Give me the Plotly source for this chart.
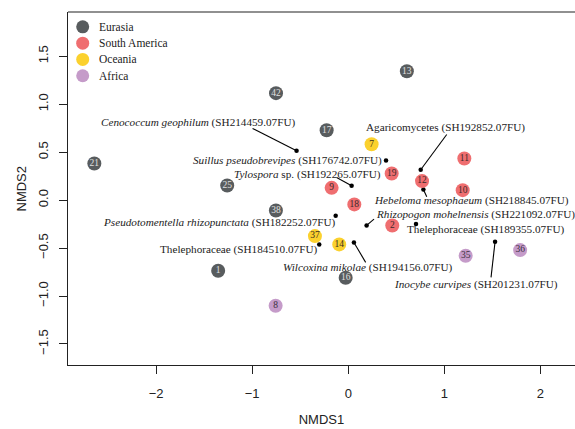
import plotly.graph_objects as go

# ---- data ----
regions = ["Eurasia", "South America", "Oceania", "Africa"]

eur_ids = ["21", "42", "13", "17", "25", "38", "1", "16"]
eur_x = [-2.643, -0.752, 0.61, -0.225, -1.26, -0.753, -1.354, -0.027]
eur_y = [0.382, 1.115, 1.344, 0.729, 0.153, -0.108, -0.736, -0.809]

sam_ids = ["9", "18", "19", "12", "11", "10", "2"]
sam_x = [-0.173, 0.063, 0.452, 0.768, 1.208, 1.191, 0.458]
sam_y = [0.128, -0.045, 0.278, 0.198, 0.434, 0.104, -0.264]

oce_ids = ["7", "37", "14"]
oce_x = [0.243, -0.347, -0.094]
oce_y = [0.583, -0.375, -0.462]

afr_ids = ["8", "35", "36"]
afr_x = [-0.756, 1.222, 1.789]
afr_y = [-1.101, -0.580, -0.521]

taxa = [
    "<i>Cenococcum geophilum</i> (SH214459.07FU)",
    "<i>Suillus pseudobrevipes</i> (SH176742.07FU)",
    "<i>Tylospora</i> sp. (SH192265.07FU)",
    "Agaricomycetes (SH192852.07FU)",
    "<i>Hebeloma mesophaeum</i> (SH218845.07FU)",
    "<i>Pseudotomentella rhizopunctata</i> (SH182252.07FU)",
    "<i>Rhizopogon mohelnensis</i> (SH221092.07FU)",
    "Thelephoraceae (SH189355.07FU)",
    "Thelephoraceae (SH184510.07FU)",
    "<i>Wilcoxina mikolae</i> (SH194156.07FU)",
    "<i>Inocybe curvipes</i> (SH201231.07FU)",
]
taxa_x = [-0.538, 0.393, 0.035, 0.754, 0.782, -0.131, 0.191, 0.705, -0.302, 0.059, 1.528]
taxa_y = [0.514, 0.413, 0.149, 0.316, 0.111, -0.163, -0.264, -0.250, -0.462, -0.441, -0.434]

# ---- label layout (position of text, anchor, leader-line end) ----
lab_x = [-1.560, 0.368, 0.361, 1.015, 0.248, -0.108, 0.268, 0.595, -0.303, 0.208, 1.334]
lab_y = [0.805, 0.413, 0.271, 0.757, 0.000, -0.236, -0.149, -0.305, -0.514, -0.705, -0.878]
lab_anchor = ["center", "right", "right", "center", "left", "right", "left", "left", "right", "center", "center"]
line_x = [-0.996, None, -0.121, 1.025, 0.817, None, 0.268, None, None, 0.181, 1.486]
line_y = [0.747, None, 0.236, 0.684, 0.034, None, -0.198, None, None, -0.649, -0.805]

colors = ["#585c5e", "#ef6e70", "#fbd12e", "#c59bc9"]
num_colors = ["#e0e0e0", "#3a2a2a", "#3a3020", "#3a3040"]

SERIF = "Liberation Serif, Times New Roman, serif"
SANS = "Liberation Sans, Arial, Helvetica, sans-serif"

fig = go.Figure()

# leader lines
lx, ly = [], []
for i in range(len(taxa)):
    if line_x[i] is not None:
        lx += [line_x[i], taxa_x[i], None]
        ly += [line_y[i], taxa_y[i], None]
fig.add_trace(go.Scatter(x=lx, y=ly, mode="lines", line=dict(color="black", width=1.1),
                         showlegend=False, hoverinfo="skip"))
fig.add_trace(go.Scatter(x=taxa_x, y=taxa_y, mode="markers",
                         marker=dict(color="black", size=4.5), showlegend=False))

groups = [(eur_ids, eur_x, eur_y), (sam_ids, sam_x, sam_y), (oce_ids, oce_x, oce_y), (afr_ids, afr_x, afr_y)]
for k, (ids, xs, ys) in enumerate(groups):
    fig.add_trace(go.Scatter(x=xs, y=ys, mode="markers", name=regions[k], showlegend=False,
                             marker=dict(color=colors[k], size=14, line=dict(width=0))))
for k, (ids, xs, ys) in enumerate(groups):
    fig.add_trace(go.Scatter(x=xs, y=ys, mode="text", text=ids, showlegend=False,
                             textposition="middle center",
                             textfont=dict(family=SERIF, size=9.5, color=num_colors[k])))

for i, t in enumerate(taxa):
    fig.add_annotation(x=lab_x[i], y=lab_y[i], text=t, showarrow=False,
                       xanchor=lab_anchor[i], yanchor="middle",
                       font=dict(family=SERIF, size=11.2, color="#222222"))

# legend (drawn manually to match the compact R legend spacing)
leg_x0 = 0.029
leg_tx = 0.0566
leg_y0 = 0.958
leg_dy = 0.0462
for k, name in enumerate(regions):
    yy = leg_y0 - k * leg_dy
    fig.add_shape(type="circle", xref="paper", yref="paper",
                  xsizemode="pixel", ysizemode="pixel", xanchor=leg_x0, yanchor=yy,
                  x0=-6.5, x1=6.5, y0=-6.5, y1=6.5,
                  fillcolor=colors[k], line=dict(width=0))
    fig.add_annotation(xref="paper", yref="paper", x=leg_tx, y=yy, text=name, showarrow=False,
                       xanchor="left", yanchor="middle",
                       font=dict(family=SERIF, size=11.5, color="#222222"))

# y-axis title (placed like R's mtext, further out than plotly's minimum standoff)
fig.add_annotation(xref="paper", yref="paper", x=0, y=0.5, xshift=-47, text="NMDS2",
                   textangle=-90, showarrow=False, xanchor="center", yanchor="middle",
                   font=dict(family=SANS, size=13, color="#222222"))

# top border of box
fig.add_shape(type="line", xref="paper", yref="paper", x0=0, x1=1, y0=1, y1=1,
              line=dict(color="#222222", width=1.2))

fig.update_layout(
    width=575, height=429,
    margin=dict(l=68, r=0, t=12, b=64),
    paper_bgcolor="white", plot_bgcolor="white",
    showlegend=False,
    xaxis=dict(range=[-2.917, 2.36], tickvals=[-2, -1, 0, 1, 2], ticktext=["\u22122", "\u22121", "0", "1", "2"],
               showgrid=False, zeroline=False, showline=True, linecolor="#222222", linewidth=1.2,
               ticks="outside", ticklen=8, tickcolor="#222222", tickwidth=1, ticklabelstandoff=8,
               tickfont=dict(family=SANS, size=13, color="#222222"),
               title=dict(text="NMDS1", font=dict(family=SANS, size=13, color="#222222"), standoff=15)),
    yaxis=dict(range=[-1.719, 1.961], tickvals=[-1.5, -1.0, -0.5, 0, 0.5, 1.0, 1.5],
               ticktext=["\u22121.5", "\u22121.0", "\u22120.5", "0.0", "0.5", "1.0", "1.5"],
               tickangle=-90,
               showgrid=False, zeroline=False, showline=True, linecolor="#222222", linewidth=1.2,
               ticks="outside", ticklen=8, tickcolor="#222222", tickwidth=1, ticklabelstandoff=6,
               tickfont=dict(family=SANS, size=13, color="#222222")),
)

fig.write_html("out.html", config={"displayModeBar": False},
               post_script="document.body.style.margin='0';document.body.style.overflow='hidden';")
